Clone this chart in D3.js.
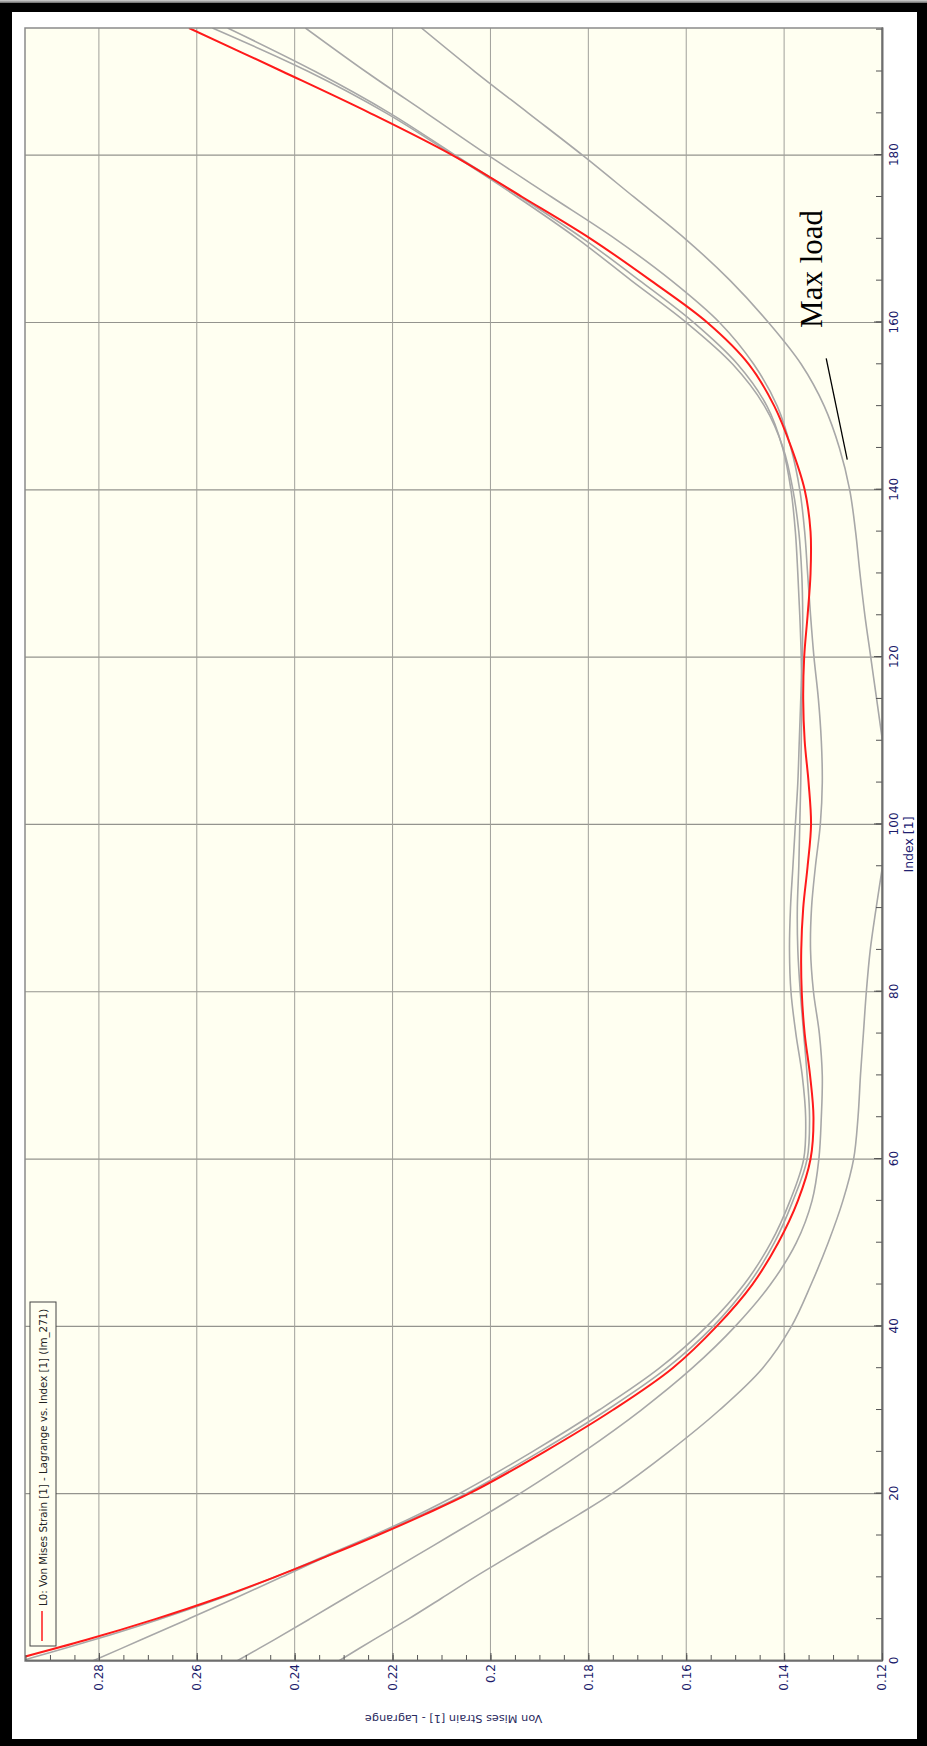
<!DOCTYPE html>
<html>
<head>
<meta charset="utf-8">
<script src="https://cdn.jsdelivr.net/npm/d3@7"></script>
<style>
  body { margin: 0; background: #fff; }
  svg { display: block; }
</style>
</head>
<body>
<svg id="chart" width="927" height="1746"></svg>
<script>
/* Von Mises strain vs index, drawn in its own frame and turned a quarter turn */

// Index positions shared by every trace
var indexPts = [0, 2.5, 5, 7.5, 10, 12.5, 15, 17.5, 20, 25, 30, 35, 40, 45, 50, 55, 60, 65, 70, 75,
	80, 85, 90, 95, 100, 105, 110, 115, 120, 125, 130, 135, 140, 145, 150, 155, 160, 165, 170, 175,
	180, 185, 190, 195.2];

// Highlighted trace (Im_271)
var redStrain = [0.2985, 0.2827, 0.2685, 0.2557, 0.2442, 0.2335, 0.2232, 0.2135, 0.2044, 0.1890,
	0.1750, 0.1628, 0.1538, 0.1465, 0.1412, 0.1372, 0.1346, 0.1340, 0.1347, 0.1358,
	0.1364, 0.1365, 0.1361, 0.1352, 0.1345, 0.1350, 0.1358, 0.1361, 0.1359, 0.1352,
	0.1346, 0.1346, 0.1358, 0.1385, 0.1420, 0.1472, 0.1557, 0.1672, 0.1795, 0.1935,
	0.2078, 0.2245, 0.2425, 0.2616];

// Other images, drawn in gray
var gray1 = [0.2960, 0.2812, 0.2676, 0.2552, 0.2442, 0.2340, 0.2240, 0.2148, 0.2064, 0.1915,
	0.1778, 0.1655, 0.1558, 0.1482, 0.1427, 0.1388, 0.1360, 0.1356, 0.1363, 0.1376,
	0.1386, 0.1389, 0.1387, 0.1382, 0.1377, 0.1372, 0.1369, 0.1366, 0.1363, 0.1362,
	0.1364, 0.1370, 0.1382, 0.1402, 0.1440, 0.1505, 0.1600, 0.1712, 0.1822, 0.1945,
	0.2076, 0.2212, 0.2372, 0.2568];
var gray2 = [0.2813, 0.2715, 0.2618, 0.2522, 0.2428, 0.2335, 0.2237, 0.2140, 0.2050, 0.1900,
	0.1762, 0.1640, 0.1545, 0.1473, 0.1420, 0.1382, 0.1353, 0.1348, 0.1353, 0.1360,
	0.1367, 0.1372, 0.1373, 0.1370, 0.1368, 0.1366, 0.1365, 0.1364, 0.1365, 0.1368,
	0.1372, 0.1377, 0.1386, 0.1403, 0.1435, 0.1495, 0.1585, 0.1695, 0.1810, 0.1938,
	0.2072, 0.2205, 0.2358, 0.2537];
var gray3 = [0.2518, 0.2443, 0.2370, 0.2298, 0.2226, 0.2154, 0.2082, 0.2010, 0.1940, 0.1810,
	0.1692, 0.1588, 0.1500, 0.1428, 0.1375, 0.1343, 0.1329, 0.1324, 0.1322, 0.1328,
	0.1340, 0.1346, 0.1344, 0.1336, 0.1326, 0.1322, 0.1324, 0.1330, 0.1339, 0.1346,
	0.1352, 0.1358, 0.1368, 0.1386, 0.1414, 0.1462, 0.1532, 0.1630, 0.1745, 0.1875,
	0.2005, 0.2130, 0.2255, 0.2378];
var gray4 = [0.2310, 0.2240, 0.2168, 0.2100, 0.2033, 0.1962, 0.1891, 0.1820, 0.1752, 0.1636,
	0.1532, 0.1444, 0.1385, 0.1345, 0.1310, 0.1280, 0.1258, 0.1249, 0.1244, 0.1238,
	0.1232, 0.1224, 0.1212, 0.1199, 0.1187, 0.1187, 0.1199, 0.1211, 0.1223, 0.1235,
	0.1245, 0.1254, 0.1266, 0.1287, 0.1318, 0.1365, 0.1432, 0.1510, 0.1602, 0.1707,
	0.1812, 0.1922, 0.2032, 0.2141];

var indexTicks = [0, 20, 40, 60, 80, 100, 120, 140, 160, 180];
var strainTicks = [0.12, 0.14, 0.16, 0.18, 0.2, 0.22, 0.24, 0.26, 0.28];

// "Max load" pointer
var maxLoadIdx = [155.7, 143.6];
var maxLoadStrain = [0.1314, 0.1271];

var svg = d3.select("#chart");

// outer frame
var defs = svg.append("defs");
var grad = defs.append("linearGradient").attr("id", "topShade")
	.attr("x1", 0).attr("y1", 0).attr("x2", 0).attr("y2", 1);
grad.append("stop").attr("offset", "0%").attr("stop-color", "#d4d4d4");
grad.append("stop").attr("offset", "100%").attr("stop-color", "#6a6a6a");

svg.append("rect").attr("width", 927).attr("height", 1746).attr("fill", "#fff");
svg.append("rect").attr("x", 0).attr("y", 0).attr("width", 927).attr("height", 3).attr("fill", "url(#topShade)");
svg.append("rect").attr("x", 0).attr("y", 3).attr("width", 927).attr("height", 9).attr("fill", "#000");
svg.append("rect").attr("x", 0).attr("y", 3).attr("width", 12).attr("height", 1743).attr("fill", "#000");
svg.append("rect").attr("x", 917).attr("y", 3).attr("width", 10).attr("height", 1743).attr("fill", "#000");
svg.append("rect").attr("x", 0).attr("y", 1739).attr("width", 927).attr("height", 7).attr("fill", "#000");

// plot box on the page
var plot = {left: 25, top: 28, right: 882, bottom: 1661};
var len = plot.bottom - plot.top,   // along the index axis
	depth = plot.right - plot.left;  // along the strain axis

var x = d3.scaleLinear().domain([0, 195.2]).range([0, len]);
var y = d3.scaleLinear().domain([0.12, 0.2951]).range([depth, 0]);

var chart = svg.append("g")
	.attr("transform", "translate(" + plot.left + "," + plot.bottom + ") rotate(-90)");

chart.append("rect")
	.attr("width", len).attr("height", depth)
	.attr("fill", "#fffff1");

defs.append("clipPath").attr("id", "plotClip")
  .append("rect").attr("width", len).attr("height", depth);

// grid
chart.append("g").selectAll("line")
	.data(indexTicks.slice(1))
  .enter().append("line")
	.attr("x1", function(d) { return x(d); })
	.attr("x2", function(d) { return x(d); })
	.attr("y1", 0).attr("y2", depth)
	.attr("stroke", "#94948e").attr("stroke-width", 1.2);

chart.append("g").selectAll("line")
	.data(strainTicks.slice(1))
  .enter().append("line")
	.attr("y1", function(d) { return y(d); })
	.attr("y2", function(d) { return y(d); })
	.attr("x1", 0).attr("x2", len)
	.attr("stroke", "#a0a09a").attr("stroke-width", 1);

// traces
var line = d3.line()
	.x(function(d, i) { return x(indexPts[i]); })
	.y(function(d) { return y(d); })
	.curve(d3.curveCatmullRom);

var traces = chart.append("g").attr("clip-path", "url(#plotClip)");
[gray4, gray3, gray2, gray1].forEach(function(s) {
	traces.append("path")
		.attr("d", line(s))
		.attr("fill", "none")
		.attr("stroke", "#a8a8a8")
		.attr("stroke-width", 1.6);
});
traces.append("path")
	.attr("d", line(redStrain))
	.attr("fill", "none")
	.attr("stroke", "#ff1a1a")
	.attr("stroke-width", 2);

chart.append("rect")
	.attr("width", len).attr("height", depth)
	.attr("fill", "none").attr("stroke", "#8a8a8a").attr("stroke-width", 1.5);

// axes
var minorIdx = d3.range(0, 196, 5);
var minorStrain = d3.range(24, 60).map(function(v) { return v / 200; });

chart.append("g")
	.attr("transform", "translate(0," + depth + ")")
	.call(d3.axisBottom(x).tickValues(minorIdx).tickSizeInner(-6).tickSizeOuter(0).tickFormat(""));
var xAxis = chart.append("g")
	.attr("transform", "translate(0," + depth + ")")
	.call(d3.axisBottom(x).tickValues(indexTicks).tickSizeInner(-8).tickSizeOuter(0).tickPadding(7));

chart.append("g")
	.call(d3.axisLeft(y).tickValues(minorStrain).tickSizeInner(-6).tickSizeOuter(0).tickFormat(""));
var yAxis = chart.append("g")
	.call(d3.axisLeft(y).tickValues(strainTicks).tickSizeInner(-8).tickSizeOuter(0).tickPadding(3)
		.tickFormat(function(d) { return String(+d.toFixed(2)); }));

chart.selectAll(".domain").attr("stroke", "#6e6e6e").attr("stroke-width", 1.6);
chart.selectAll(".tick line").attr("stroke", "#555");
[xAxis, yAxis].forEach(function(a) {
	a.selectAll("text")
		.attr("font-family", "DejaVu Sans, sans-serif")
		.attr("font-size", 12)
		.attr("fill", "#1b1b6b");
});

// axis titles
chart.append("text")
	.attr("x", x(97.6))
	.attr("y", depth + 31)
	.attr("text-anchor", "middle")
	.attr("font-family", "DejaVu Sans, sans-serif")
	.attr("font-size", 12.5)
	.attr("fill", "#202070")
	.text("Index [1]");

chart.append("text")
	.attr("transform", "translate(-54," + (depth / 2) + ") rotate(-90)")
	.attr("text-anchor", "middle")
	.attr("font-family", "DejaVu Sans, sans-serif")
	.attr("font-size", 11.3)
	.attr("fill", "#2a2a5e")
	.text("Von Mises Strain [1] - Lagrange");

// legend
var legend = chart.append("g").attr("transform", "translate(15,5)");
legend.append("rect")
	.attr("width", 344).attr("height", 26)
	.attr("fill", "#fffff1").attr("stroke", "#454545").attr("stroke-width", 1);
legend.append("line")
	.attr("x1", 5).attr("x2", 35).attr("y1", 12).attr("y2", 12)
	.attr("stroke", "#ff1a1a").attr("stroke-width", 1.5);
legend.append("text")
	.attr("x", 40).attr("y", 16.5)
	.attr("font-family", "DejaVu Sans, sans-serif")
	.attr("font-size", 10.3)
	.attr("fill", "#222")
	.text("L0: Von Mises Strain [1] - Lagrange vs. Index [1] (Im_271)");

// annotation
chart.append("path")
	.attr("d", d3.line()
		.x(function(d, i) { return x(maxLoadIdx[i]); })
		.y(function(d) { return y(d); })(maxLoadStrain))
	.attr("stroke", "#000").attr("stroke-width", 1.3).attr("fill", "none");

chart.append("text")
	.attr("x", x(166.4))
	.attr("y", y(0.1322))
	.attr("text-anchor", "middle")
	.attr("font-family", "Liberation Serif, serif")
	.attr("font-size", 31)
	.attr("fill", "#000")
	.text("Max load");
</script>
</body>
</html>
